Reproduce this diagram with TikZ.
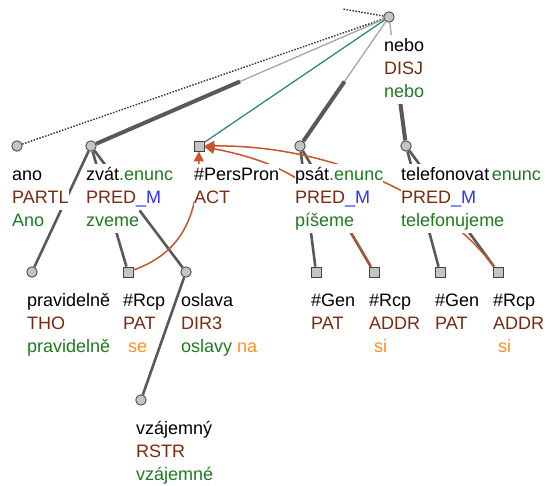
\documentclass[tikz,border=0pt]{standalone}
\usepackage{fontspec}
\setmainfont{Liberation Sans}
\usetikzlibrary{positioning,calc,arrows.meta}
\definecolor{brn}{HTML}{7A2A10}
\definecolor{grn}{HTML}{1E7B1E}
\definecolor{blu}{HTML}{3030FF}
\definecolor{orn}{HTML}{FF9020}
\definecolor{edg}{HTML}{595959}
\definecolor{lgray}{HTML}{A5A5A5}
\definecolor{lgreen}{HTML}{2E8B6E}
\definecolor{corc}{HTML}{C8552A}
\definecolor{ndfill}{HTML}{C4C4C4}
\definecolor{nddraw}{HTML}{404040}
\setlength{\fboxsep}{0pt}
\newcommand{\tline}[1]{\colorbox{white}{\rule[-7pt]{0pt}{23pt}#1}}

\begin{document}
\begin{tikzpicture}[x=1pt, y=-1pt,
		cnode/.style={circle, minimum size=10.5pt, inner sep=0pt, fill=ndfill, draw=nddraw, line width=0.8pt},
		snode/.style={rectangle, minimum size=10pt, inner sep=0pt, fill=ndfill, draw=nddraw, line width=0.8pt},
		upedge/.style={draw=lgray, line width=1.3pt},
		cedge/.style={draw=edg, line width=4pt},
		edge/.style={draw=edg, line width=2.6pt},
		dotedge/.style={draw=black!80, line width=1.4pt, dash pattern=on 1.5pt off 1.5pt},
		pedge/.style={draw=lgreen, line width=1.3pt},
		coref/.style={draw=corc, line width=1.5pt, -{Triangle[length=10pt,width=10pt]}},
		lbl/.style={inner sep=0pt, align=left, font=\fontsize{18}{23}\selectfont}]
		\useasboundingbox (0,0) rectangle (549,485);
		% tree nodes
		\node[cnode] (r) at (389,17) {};
		\coordinate (up) at (343,9);
		\node[cnode] (ano) at (17,146) {};
		\node[cnode] (zvat) at (91,146) {};
		\node[snode] (pp) at (199,146) {};
		\node[cnode] (psat) at (300,146) {};
		\node[cnode] (tel) at (406,146) {};
		\node[cnode] (prav) at (32,272) {};
		\node[snode] (rcpA) at (128,272) {};
		\node[cnode] (osl) at (186,272) {};
		\node[snode] (genB) at (316,272) {};
		\node[snode] (rcpB) at (374,272) {};
		\node[snode] (genC) at (440,272) {};
		\node[snode] (rcpC) at (498,272) {};
		\node[cnode] (vzaj) at (141,400) {};
		% edges
		\draw[dotedge] (r) -- (up);
		\draw[dotedge] (r) -- (ano);
		\draw[upedge] (r) -- (zvat);
		\draw[cedge] (zvat) -- ($(r)!.5!(zvat)$);
		\draw[pedge] (r) -- (pp);
		\draw[upedge] (r) -- (psat);
		\draw[cedge] (psat) -- ($(r)!.5!(psat)$);
		\draw[upedge] (r) -- (tel);
		\draw[cedge] (tel) -- ($(r)!.5!(tel)$);
		\draw[edge] (zvat) -- (prav);
		\draw[edge] (zvat) -- (rcpA);
		\draw[edge] (zvat) -- (osl);
		\draw[edge] (osl) -- (vzaj);
		\draw[edge] (psat) -- (genB);
		\draw[edge] (psat) -- (rcpB);
		\draw[edge] (tel) -- (genC);
		\draw[edge] (tel) -- (rcpC);
		% coreference
		\draw[coref] (rcpA) .. controls (175,255) and (198,225) .. (pp);
		\draw[coref] (rcpB) .. controls (335,200) and (300,165) .. (pp);
		\draw[coref] (rcpC) .. controls (440,195) and (330,145) .. (pp);
		% labels
		\node[lbl, below right=18pt and -5pt of r.center] (lr) {\tline{nebo}\\\tline{\textcolor{brn}{DISJ}}\\\tline{\textcolor{grn}{nebo}}};
		\node[lbl, below right=18pt and -5pt of ano.center] (lano) {\tline{ano}\\\tline{\textcolor{brn}{PARTL}}\\\tline{\textcolor{grn}{Ano}}};
		\node[lbl, below right=18pt and -5pt of zvat.center] (lzvat) {\tline{zvát\textcolor{grn}{.enunc}}\\\tline{\textcolor{brn}{PRED}\textcolor{blu}{\_M}}\\\tline{\textcolor{grn}{zveme}}};
		\node[lbl, below right=18pt and -5pt of pp.center] (lpp) {\tline{\#PersPron}\\\tline{\textcolor{brn}{ACT}}};
		\node[lbl, below right=18pt and -5pt of psat.center] (lpsat) {\tline{psát\textcolor{grn}{.enunc}}\\\tline{\textcolor{brn}{PRED}\textcolor{blu}{\_M}}\\\tline{\textcolor{grn}{píšeme}}};
		\node[lbl, below right=18pt and -5pt of tel.center] (ltel) {\tline{telefonovat\hspace{2.5pt}\textcolor{grn}{enunc}}\\\tline{\textcolor{brn}{PRED}\textcolor{blu}{\_M}}\\\tline{\textcolor{grn}{telefonujeme}}};
		\node[lbl, below right=18pt and -5pt of prav.center] (lprav) {\tline{pravidelně}\\\tline{\textcolor{brn}{THO}}\\\tline{\textcolor{grn}{pravidelně}}};
		\node[lbl, below right=18pt and -5pt of rcpA.center] (lrcpA) {\tline{\#Rcp}\\\tline{\textcolor{brn}{PAT}}\\\tline{\textcolor{orn}{~se}}};
		\node[lbl, below right=18pt and -5pt of osl.center] (losl) {\tline{oslava}\\\tline{\textcolor{brn}{DIR3}}\\\tline{\textcolor{grn}{oslavy}\textcolor{orn}{~na}}};
		\node[lbl, below right=18pt and -5pt of genB.center] (lgenB) {\tline{\#Gen}\\\tline{\textcolor{brn}{PAT}}};
		\node[lbl, below right=18pt and -5pt of rcpB.center] (lrcpB) {\tline{\#Rcp}\\\tline{\textcolor{brn}{ADDR}}\\\tline{\textcolor{orn}{~si}}};
		\node[lbl, below right=18pt and -5pt of genC.center] (lgenC) {\tline{\#Gen}\\\tline{\textcolor{brn}{PAT}}};
		\node[lbl, below right=18pt and -5pt of rcpC.center] (lrcpC) {\tline{\#Rcp}\\\tline{\textcolor{brn}{ADDR}}\\\tline{\textcolor{orn}{~si}}};
		\node[lbl, below right=18pt and -5pt of vzaj.center] (lvzaj) {\tline{vzájemný}\\\tline{\textcolor{brn}{RSTR}}\\\tline{\textcolor{grn}{vzájemné}}};
	\end{tikzpicture}
\end{document}
